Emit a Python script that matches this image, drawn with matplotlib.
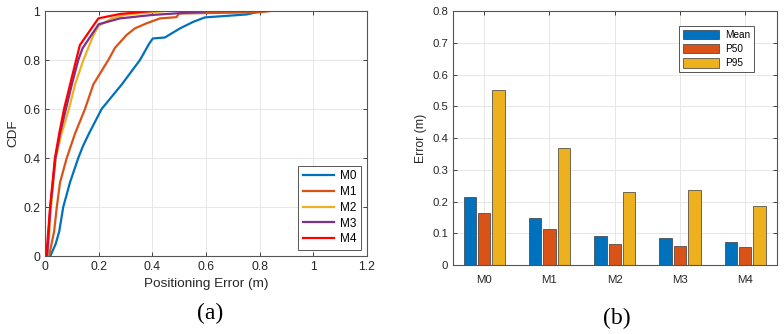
import matplotlib

matplotlib.use("Agg")
import matplotlib.pyplot as plt
import numpy as np

plt.rcParams["font.family"] = ["Liberation Sans", "DejaVu Sans"]

# CDF curves (positioning error in m, cumulative fraction)
M0_X = [0.02, 0.04, 0.053, 0.068, 0.093, 0.124, 0.142, 0.164, 0.211, 0.286, 0.354,
        0.389, 0.402, 0.447, 0.503, 0.553, 0.596, 0.752, 0.789, 0.82]
M0_Y = [0.0, 0.05, 0.1, 0.2, 0.3, 0.4, 0.45, 0.5, 0.6, 0.7, 0.8,
        0.868, 0.888, 0.892, 0.929, 0.956, 0.974, 0.986, 0.995, 1.0]
M1_X = [0.015, 0.034, 0.044, 0.056, 0.081, 0.112, 0.149, 0.18, 0.236, 0.261, 0.304,
        0.335, 0.379, 0.429, 0.49, 0.5, 0.8, 0.84]
M1_Y = [0.0, 0.1, 0.2, 0.3, 0.4, 0.5, 0.6, 0.7, 0.8, 0.85, 0.902,
        0.929, 0.95, 0.97, 0.975, 0.99, 0.995, 1.0]
M2_X = [0.01, 0.022, 0.04, 0.062, 0.089, 0.112, 0.143, 0.18, 0.2, 0.25, 0.3, 0.45]
M2_Y = [0.0, 0.2, 0.4, 0.5, 0.6, 0.7, 0.8, 0.9, 0.94, 0.97, 0.985, 1.0]
M3_X = [0.008, 0.02, 0.039, 0.056, 0.078, 0.1, 0.124, 0.14, 0.2, 0.28, 0.4, 0.596]
M3_Y = [0.0, 0.2, 0.4, 0.5, 0.6, 0.7, 0.8, 0.848, 0.946, 0.97, 0.984, 0.998]
M4_X = [0.005, 0.019, 0.037, 0.053, 0.071, 0.093, 0.116, 0.13, 0.199, 0.28, 0.4]
M4_Y = [0.0, 0.2, 0.4, 0.5, 0.6, 0.698, 0.8, 0.861, 0.97, 0.988, 1.0]

# bar chart
MODELS = ["M0", "M1", "M2", "M3", "M4"]
MEAN = [0.214, 0.148, 0.090, 0.086, 0.074]
P50 = [0.164, 0.113, 0.066, 0.061, 0.057]
P95 = [0.550, 0.370, 0.231, 0.237, 0.186]

BLUE, ORANGE, YELLOW, PURPLE, RED = "#0072BD", "#D95319", "#EDB120", "#7E2F8E", "#FF0000"


def style_axes(ax, size):
    for s in ax.spines.values():
        s.set_color("#555555")
        s.set_linewidth(0.8)
    ax.tick_params(direction="in", top=True, right=True, length=3, width=0.6,
                   colors="#262626", labelsize=size)
    ax.grid(color="#e3e3e3", lw=0.6)
    ax.set_axisbelow(True)


fig = plt.figure(figsize=(7.84, 3.34), dpi=100)

# (a) CDF
ax = fig.add_axes([0.0574, 0.2335, 0.4106, 0.7335])
curves = [(M0_X, M0_Y, BLUE, "M0"), (M1_X, M1_Y, ORANGE, "M1"), (M2_X, M2_Y, YELLOW, "M2"),
          (M3_X, M3_Y, PURPLE, "M3"), (M4_X, M4_Y, RED, "M4")]
for xs, ys, c, lab in curves:
    ax.plot(xs, ys, color=c, lw=1.6, label=lab)
ax.set_xlim(0, 1.2)
ax.set_ylim(0, 1)
ax.set_xticks(np.arange(0, 1.21, 0.2))
ax.set_xticklabels(["0", "0.2", "0.4", "0.6", "0.8", "1", "1.2"])
ax.set_yticks(np.arange(0, 1.01, 0.2))
ax.set_yticklabels(["0", "0.2", "0.4", "0.6", "0.8", "1"])
ax.set_xlabel("Positioning Error (m)", fontsize=9.7, color="#262626", labelpad=4)
ax.set_ylabel("CDF", fontsize=9.7, color="#262626", labelpad=3)
style_axes(ax, 8.7)
leg = ax.legend(loc="lower right", fontsize=8.5, handlelength=2.6, fancybox=False,
                framealpha=1, edgecolor="#555555", borderpad=0.4, labelspacing=0.32,
                handletextpad=0.5, borderaxespad=0.5)
leg.get_frame().set_linewidth(0.7)

# (b) bars
bx = fig.add_axes([0.578, 0.2066, 0.413, 0.7604])
x = np.arange(1, len(MODELS) + 1)
w = 0.19
off = 0.22
for vals, dx, c, lab in [(MEAN, -off, BLUE, "Mean"), (P50, 0, ORANGE, "P50"),
                         (P95, off, YELLOW, "P95")]:
    bx.bar(x + dx, vals, width=w, color=c, edgecolor="#3a3a3a", lw=0.5, label=lab)
bx.set_xlim(0.525, 5.485)
bx.set_ylim(0, 0.8)
bx.set_xticks(x)
bx.set_xticklabels(MODELS)
bx.set_yticks(np.arange(0, 0.81, 0.1))
bx.set_yticklabels(["0", "0.1", "0.2", "0.3", "0.4", "0.5", "0.6", "0.7", "0.8"])
bx.set_ylabel("Error (m)", fontsize=8.8, color="#262626", labelpad=4)
style_axes(bx, 8.2)
bx.tick_params(axis="x", pad=7)
leg2 = bx.legend(loc="upper right", bbox_to_anchor=(0.945, 0.96), fontsize=7.2,
                 handlelength=3.6, handleheight=1.1, fancybox=False, framealpha=1,
                 edgecolor="#555555", borderpad=0.35, labelspacing=0.4, handletextpad=0.7)
leg2.get_frame().set_linewidth(0.7)

fig.text(210 / 784, 1 - 313 / 334, "(a)", ha="center", va="center", fontsize=17,
         family=["Liberation Serif", "DejaVu Serif"])
fig.text(617 / 784, 1 - 318 / 334, "(b)", ha="center", va="center", fontsize=17,
         family=["Liberation Serif", "DejaVu Serif"])

fig.savefig("out.png", dpi=100)
plt.close(fig)
